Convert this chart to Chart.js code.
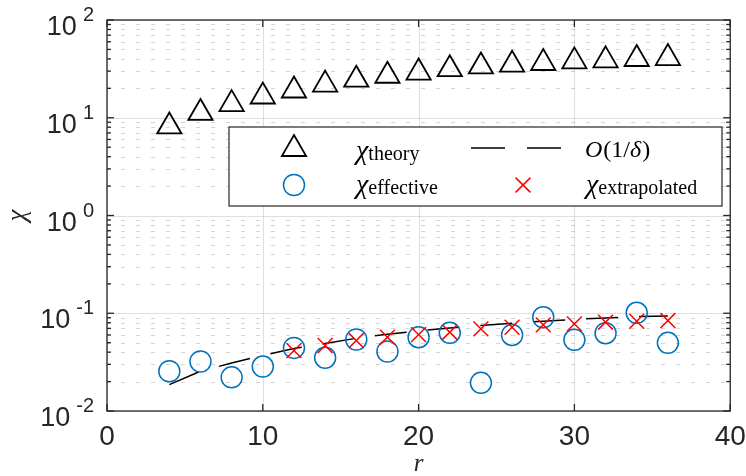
<!DOCTYPE html>
<html lang="en">
<head>
    <meta charset="UTF-8">
    <title>chi vs r</title>
    <script src="https://cdn.jsdelivr.net/npm/chart.js"></script>
    <style>
        body { margin: 0; background: #fff; }
    </style>
</head>
<body>
    <canvas id="myChart" width="746" height="476"></canvas>
    <script>
        // values
        const r = [4, 6, 8, 10, 12, 14, 16, 18, 20, 22, 24, 26, 28, 30, 32, 34, 36];
        const chiTheory = [8.15, 11.2, 13.8, 16.5, 19.0, 21.8, 24.5, 26.9, 29.0, 31.4, 33.5, 34.9, 36.3, 37.7, 38.6, 39.9, 40.8];
        const chiEffective = [0.0255, 0.0321, 0.0221, 0.0285, 0.0442, 0.035, 0.0539, 0.0406, 0.0569, 0.063, 0.0194, 0.060, 0.091, 0.0535, 0.0625, 0.101, 0.0498];
        const rExtrap = [12, 14, 16, 18, 20, 22, 24, 26, 28, 30, 32, 34, 36];
        const chiExtrap = [0.0415, 0.0468, 0.0526, 0.0569, 0.0605, 0.064, 0.0692, 0.0719, 0.076, 0.0778, 0.081, 0.0828, 0.0842];
        const orderLine = [0.0186, 0.0255, 0.031, 0.037, 0.0435, 0.049, 0.0555, 0.061, 0.066, 0.0705, 0.075, 0.079, 0.083, 0.0865, 0.0895, 0.0925, 0.094];
        const xTicks = [0, 10, 20, 30, 40];
        const yDecades = [-2, -1, 0, 1, 2];

        const pts = (xs, ys) => xs.map((x, i) => ({ x: x, y: ys[i] }));

        const TXT = '#262626';
        const SANS = '"Liberation Sans", Arial, Helvetica, sans-serif';
        const SERIF = '"Liberation Serif", "Times New Roman", serif';

        function seg(ctx, x1, y1, x2, y2) {
            ctx.beginPath();
            ctx.moveTo(x1, y1);
            ctx.lineTo(x2, y2);
            ctx.stroke();
        }

        // grid, box, ticks, labels and legend drawn MATLAB style
        const matlabAxes = {
            id: 'matlabAxes',
            beforeDatasetsDraw(chart) {
                const { ctx, chartArea: a, scales: { x, y } } = chart;
                ctx.save();
                ctx.lineWidth = 1;
                // minor grid (dotted)
                ctx.strokeStyle = 'rgba(38,38,38,0.2)';
                ctx.setLineDash([4, 11]);
                ctx.lineDashOffset = -14;
                for (const d of yDecades.slice(0, -1)) {
                    for (let m = 2; m <= 9; m++) {
                        const py = Math.round(y.getPixelForValue(m * Math.pow(10, d))) + 0.5;
                        seg(ctx, a.left, py, a.right, py);
                    }
                }
                // major grid
                ctx.setLineDash([]);
                ctx.strokeStyle = 'rgba(38,38,38,0.15)';
                xTicks.forEach(v => {
                    const px = Math.round(x.getPixelForValue(v)) + 0.5;
                    seg(ctx, px, a.top, px, a.bottom);
                });
                yDecades.forEach(d => {
                    const py = Math.round(y.getPixelForValue(Math.pow(10, d))) + 0.5;
                    seg(ctx, a.left, py, a.right, py);
                });
                ctx.restore();
            },
            afterDatasetsDraw(chart) {
                const { ctx, chartArea: a, scales: { x, y } } = chart;
                ctx.save();
                ctx.strokeStyle = TXT;
                ctx.fillStyle = TXT;
                ctx.lineWidth = 1.3;
                ctx.strokeRect(a.left, a.top, a.right - a.left, a.bottom - a.top);

                // x ticks + labels
                ctx.font = '28px ' + SANS;
                ctx.textAlign = 'center';
                ctx.textBaseline = 'alphabetic';
                xTicks.forEach(v => {
                    const px = x.getPixelForValue(v);
                    seg(ctx, px, a.bottom, px, a.bottom - 7);
                    seg(ctx, px, a.top, px, a.top + 7);
                    ctx.fillText(String(v), px, a.bottom + 34);
                });

                // y ticks (major + minor) and 10^n labels
                yDecades.forEach((d, i) => {
                    const py = y.getPixelForValue(Math.pow(10, d));
                    seg(ctx, a.left, py, a.left + 7, py);
                    seg(ctx, a.right, py, a.right - 7, py);
                    if (i < yDecades.length - 1) {
                        for (let m = 2; m <= 9; m++) {
                            const pm = y.getPixelForValue(m * Math.pow(10, d));
                            seg(ctx, a.left, pm, a.left + 4, pm);
                            seg(ctx, a.right, pm, a.right - 4, pm);
                        }
                    }
                    const exp = String(d);
                    ctx.textAlign = 'right';
                    ctx.font = '20px ' + SANS;
                    const ex = a.left - 13;
                    ctx.fillText(exp, ex, py + 1);
                    const ew = ctx.measureText(exp).width;
                    ctx.font = '27px ' + SANS;
                    ctx.fillText('10', ex - ew - 6, py + 15);
                });

                // axis titles
                ctx.textAlign = 'center';
                ctx.font = 'italic 25px ' + SERIF;
                ctx.fillText('r', (a.left + a.right) / 2, a.bottom + 60);
                ctx.save();
                ctx.translate(18, (a.top + a.bottom) / 2);
                ctx.rotate(-Math.PI / 2);
                ctx.textBaseline = 'middle';
                ctx.font = 'italic 27px ' + SERIF;
                ctx.fillText('\u03C7', 0, 0);
                ctx.restore();

                // legend box
                const lx = a.left + 122, ly = a.top + 107, lw = 493, lh = 79;
                ctx.fillStyle = '#fff';
                ctx.fillRect(lx, ly, lw, lh);
                ctx.lineWidth = 1.2;
                ctx.strokeStyle = TXT;
                ctx.strokeRect(lx, ly, lw, lh);

                // markers
                ctx.lineWidth = 1.8;
                ctx.strokeStyle = '#000';
                const tx = lx + 65, ty = ly + 22, tr = 14;
                ctx.beginPath();
                for (let k = 0; k < 3; k++) {
                    const ang = k * 2 * Math.PI / 3;
                    const px = tx + Math.sin(ang) * tr, py = ty - Math.cos(ang) * tr;
                    k ? ctx.lineTo(px, py) : ctx.moveTo(px, py);
                }
                ctx.closePath();
                ctx.stroke();

                ctx.lineWidth = 1.5;
                ctx.strokeStyle = '#0072BD';
                ctx.beginPath();
                ctx.arc(lx + 65, ly + 58, 10.5, 0, 2 * Math.PI);
                ctx.stroke();

                ctx.strokeStyle = '#000';
                ctx.setLineDash([34, 22]);
                seg(ctx, lx + 242, ly + 21, lx + 332, ly + 21);
                ctx.setLineDash([]);

                ctx.strokeStyle = '#FF0000';
                const cx = lx + 294, cy = ly + 58, cs = 7.4;
                seg(ctx, cx - cs, cy - cs, cx + cs, cy + cs);
                seg(ctx, cx - cs, cy + cs, cx + cs, cy - cs);

                // legend texts
                ctx.fillStyle = '#000';
                ctx.textAlign = 'left';
                ctx.textBaseline = 'alphabetic';
                const chiLabel = (sub, px, py) => {
                    ctx.font = 'italic 28px ' + SERIF;
                    ctx.fillText('\u03C7', px, py - 1);
                    const w = ctx.measureText('\u03C7').width;
                    ctx.font = '20px ' + SERIF;
                    ctx.fillText(sub, px + w, py);
                };
                chiLabel('theory', lx + 127, ly + 33);
                chiLabel('effective', lx + 127, ly + 67);
                chiLabel('extrapolated', lx + 357, ly + 67);

                let ox = lx + 356;
                const oy = ly + 30;
                [['O', 'italic '], ['(1/', ''], ['\u03B4', 'italic '], [')', '']].forEach(([t, st]) => {
                    ctx.font = st + '24px ' + SERIF;
                    ctx.fillText(t, ox, oy);
                    ox += ctx.measureText(t).width + (st ? 1 : 0);
                });
                ctx.restore();
            }
        };

        const data = {
            datasets: [
                {
                    label: 'chi theory',
                    data: pts(r, chiTheory),
                    pointStyle: 'triangle',
                    pointRadius: 14,
                    pointBorderWidth: 1.8,
                    pointBorderColor: '#000',
                    pointBackgroundColor: 'rgba(0,0,0,0)'
                },
                {
                    label: 'chi extrapolated',
                    data: pts(rExtrap, chiExtrap),
                    pointStyle: 'crossRot',
                    pointRadius: 10.5,
                    pointBorderWidth: 1.5,
                    pointBorderColor: '#FF0000',
                    pointBackgroundColor: 'rgba(0,0,0,0)'
                },
                {
                    label: 'chi effective',
                    data: pts(r, chiEffective),
                    pointStyle: 'circle',
                    pointRadius: 10.5,
                    pointBorderWidth: 1.5,
                    pointBorderColor: '#0072BD',
                    pointBackgroundColor: 'rgba(0,0,0,0)'
                },
                {
                    label: 'O(1/delta)',
                    data: pts(r, orderLine),
                    showLine: true,
                    pointRadius: 0,
                    borderColor: '#000',
                    borderWidth: 1.5,
                    borderDash: [32, 21],
                    fill: false
                }
            ]
        };

        const config = {
            type: 'scatter',
            data,
            plugins: [matlabAxes],
            options: {
                responsive: false,
                animation: false,
                layout: {
                    padding: { left: 107, top: 20, right: 12, bottom: 65 }
                },
                scales: {
                    x: { type: 'linear', min: 0, max: 40, display: false },
                    y: { type: 'logarithmic', min: 0.01, max: 100, display: false }
                },
                plugins: {
                    legend: { display: false },
                    tooltip: { enabled: false }
                }
            }
        };

        const myChart = new Chart(document.getElementById('myChart'), config);
    </script>
</body>
</html>
